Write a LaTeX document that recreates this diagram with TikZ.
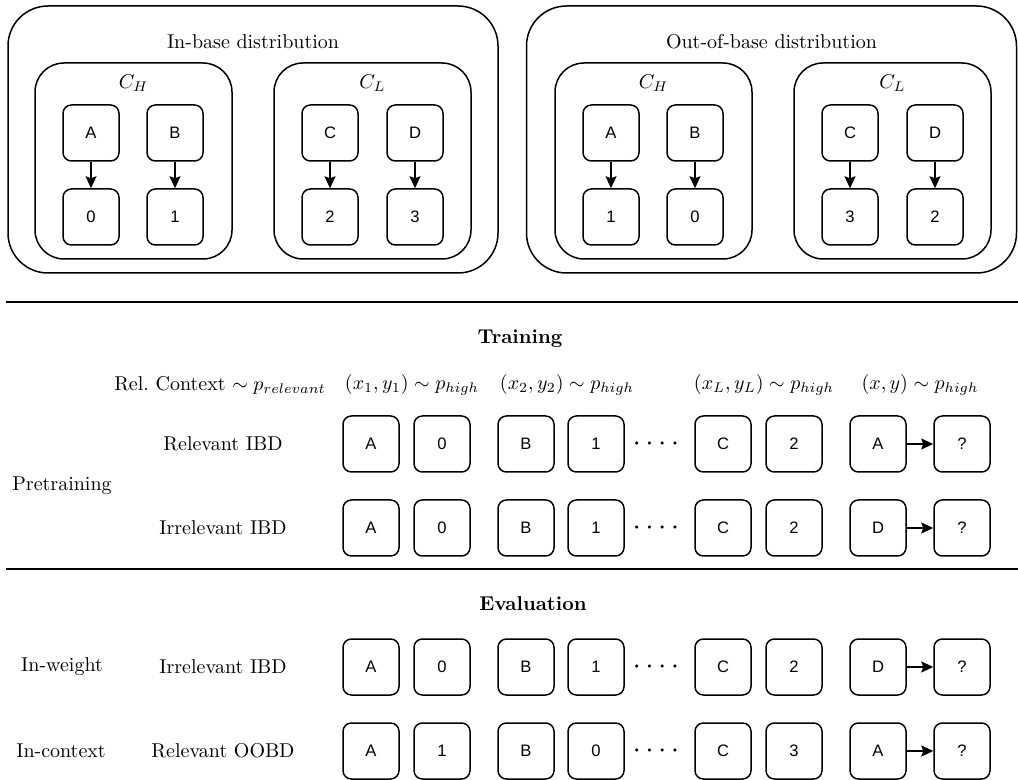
\documentclass[tikz,border=0pt]{standalone}
\usepackage{fontspec}
\newfontfamily\boxfont{Liberation Sans}
\usetikzlibrary{arrows.meta}
\begin{document}
\begin{tikzpicture}[x=0.5pt,y=-0.5pt,
  lbl/.style={font=\fontsize{10}{12}\selectfont, inner sep=0pt},
  hdr/.style={font=\fontsize{10.2}{12.2}\selectfont, inner sep=0pt},
  ttl/.style={font=\fontsize{10}{12}\selectfont\bfseries, inner sep=0pt},
  sq/.style={draw, line width=0.75pt, rounded corners=4.2pt, minimum width=28pt, minimum height=28pt, inner sep=0pt, font=\boxfont\fontsize{8.3}{10}\selectfont},
  grp/.style={draw, line width=0.75pt, rounded corners=14.5pt, minimum width=98.5pt, minimum height=98pt, inner sep=0pt},
  outer/.style={draw, line width=0.75pt, rounded corners=20pt, minimum width=245pt, minimum height=133.5pt, inner sep=0pt},
  arr/.style={line width=0.75pt, -{Stealth[length=6pt,width=5.5pt,inset=1pt]}},
  sep/.style={line width=0.75pt}]
\useasboundingbox (0,0) rectangle (1018,780);

% ---------- top: distributions ----------
\node[outer] (ibd) at (253,139.5) {};
\node[outer] (oobd) at (771.5,139.5) {};
\node[lbl] (ibdt) at (253,42) {In-base distribution};
\node[lbl] (oobdt) at (771.5,42) {Out-of-base distribution};

\node[grp] (ch1) at (133.5,161) {};
\node[grp] (cl1) at (372.5,161) {};
\node[grp] (ch2) at (653.5,161) {};
\node[grp] (cl2) at (892.5,161) {};
\node[hdr] (ch1t) at (133.5,83) {$C_H$};
\node[hdr] (cl1t) at (372.5,83) {$C_L$};
\node[hdr] (ch2t) at (653.5,83) {$C_H$};
\node[hdr] (cl2t) at (892.5,83) {$C_L$};

% in-base pairs
\node[sq] (tA1) at (91,133) {A};
\node[sq] (tB1) at (175,133) {B};
\node[sq] (tC1) at (330,133) {C};
\node[sq] (tD1) at (415,133) {D};
\node[sq] (tA1v) at (91,217) {0};
\node[sq] (tB1v) at (175,217) {1};
\node[sq] (tC1v) at (330,217) {2};
\node[sq] (tD1v) at (415,217) {3};
\draw[arr] (tA1) -- (tA1v);
\draw[arr] (tB1) -- (tB1v);
\draw[arr] (tC1) -- (tC1v);
\draw[arr] (tD1) -- (tD1v);

% out-of-base pairs
\node[sq] (tA2) at (611,133) {A};
\node[sq] (tB2) at (695,133) {B};
\node[sq] (tC2) at (850,133) {C};
\node[sq] (tD2) at (935,133) {D};
\node[sq] (tA2v) at (611,217) {1};
\node[sq] (tB2v) at (695,217) {0};
\node[sq] (tC2v) at (850,217) {3};
\node[sq] (tD2v) at (935,217) {2};
\draw[arr] (tA2) -- (tA2v);
\draw[arr] (tB2) -- (tB2v);
\draw[arr] (tC2) -- (tC2v);
\draw[arr] (tD2) -- (tD2v);

% ---------- separators ----------
\coordinate (l1a) at (6,302);
\coordinate (l1b) at (1018,302);
\coordinate (l2a) at (6,569);
\coordinate (l2b) at (1018,569);
\draw[sep] (l1a) -- (l1b);
\draw[sep] (l2a) -- (l2b);

% ---------- training ----------
\node[ttl] (train) at (520,339) {Training};
\node[lbl] (hrel) at (220,385) {Rel.\ Context $\sim p_{relevant}$};
\node[hdr] (h1) at (412,385) {$(x_1, y_1) \sim p_{high}$};
\node[hdr] (h2) at (567,385) {$(x_2, y_2) \sim p_{high}$};
\node[hdr] (hL) at (764,385) {$(x_L, y_L) \sim p_{high}$};
\node[hdr] (hx) at (920,385) {$(x, y) \sim p_{high}$};

\node[lbl] (pre) at (62,486) {Pretraining};
\node[lbl] (rl1) at (223,444) {Relevant IBD};
\node[lbl] (rl2) at (223,528) {Irrelevant IBD};

% ---------- evaluation ----------
\node[ttl] (eval) at (533,604) {Evaluation};
\node[lbl] (iw) at (62,667) {In-weight};
\node[lbl] (ic) at (61,751) {In-context};
\node[lbl] (rl3) at (223,667) {Irrelevant IBD};
\node[lbl] (rl4) at (223,751) {Relevant OOBD};

% ---------- sequence rows ----------
\foreach \r/\y/\a/\b/\c/\d/\e/\f/\g in {1/444/A/0/B/1/C/2/A, 2/528/A/0/B/1/C/2/D, 3/667/A/0/B/1/C/2/D, 4/751/A/1/B/0/C/3/A} {
  \node[sq] (r\r c1) at (371,\y) {\a};
  \node[sq] (r\r c2) at (442,\y) {\b};
  \node[sq] (r\r c3) at (526,\y) {\c};
  \node[sq] (r\r c4) at (596,\y) {\d};
  \node[lbl] (r\r dots) at (656,\y) {{\boldmath${\cdot}\kern3.2pt{\cdot}\kern3.2pt{\cdot}\kern3.2pt{\cdot}$}};
  \node[sq] (r\r c5) at (723,\y) {\e};
  \node[sq] (r\r c6) at (794,\y) {\f};
  \node[sq] (r\r c7) at (878,\y) {\g};
  \node[sq] (r\r c8) at (962,\y) {?};
  \draw[arr] (r\r c7) -- (r\r c8);
}
\end{tikzpicture}
\end{document}
